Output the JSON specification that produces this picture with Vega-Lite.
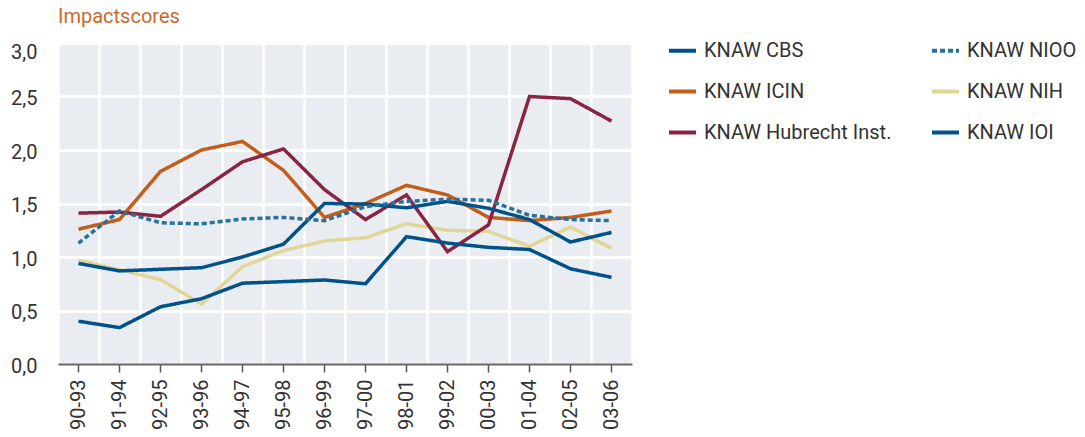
{
  "$schema": "https://vega.github.io/schema/vega-lite/v6.json",
  "width": 574,
  "height": 321,
  "autosize": {"type": "none"},
  "padding": {"left": 58, "top": 43, "right": 453, "bottom": 73},
  "background": "white",
  "title": {"text": "Impactscores", "anchor": "start", "frame": "group", "color": "#c8692c", "font": "Roboto", "fontSize": 20, "fontWeight": "normal", "offset": 8},
  "config": {
    "font": "Roboto",
    "view": {"fill": "#e9ecf0", "stroke": null},
    "legend": {"orient": "none", "legendX": 609, "legendY": -8, "columns": 2, "symbolType": "stroke", "symbolSize": 729, "symbolStrokeWidth": 4, "labelFontSize": 20, "labelFont": "Roboto", "labelColor": "#333333", "labelOffset": 6, "labelLimit": 400, "rowPadding": 15, "columnPadding": 32}
  },
  "data": {"values": [
    {"period": "90-93", "inst": "KNAW NIH", "value": 0.97},
    {"period": "91-94", "inst": "KNAW NIH", "value": 0.88},
    {"period": "92-95", "inst": "KNAW NIH", "value": 0.79},
    {"period": "93-96", "inst": "KNAW NIH", "value": 0.56},
    {"period": "94-97", "inst": "KNAW NIH", "value": 0.91},
    {"period": "95-98", "inst": "KNAW NIH", "value": 1.06},
    {"period": "96-99", "inst": "KNAW NIH", "value": 1.15},
    {"period": "97-00", "inst": "KNAW NIH", "value": 1.18},
    {"period": "98-01", "inst": "KNAW NIH", "value": 1.31},
    {"period": "99-02", "inst": "KNAW NIH", "value": 1.25},
    {"period": "00-03", "inst": "KNAW NIH", "value": 1.24},
    {"period": "01-04", "inst": "KNAW NIH", "value": 1.10},
    {"period": "02-05", "inst": "KNAW NIH", "value": 1.28},
    {"period": "03-06", "inst": "KNAW NIH", "value": 1.08},
    {"period": "90-93", "inst": "KNAW ICIN", "value": 1.26},
    {"period": "91-94", "inst": "KNAW ICIN", "value": 1.35},
    {"period": "92-95", "inst": "KNAW ICIN", "value": 1.80},
    {"period": "93-96", "inst": "KNAW ICIN", "value": 2.00},
    {"period": "94-97", "inst": "KNAW ICIN", "value": 2.08},
    {"period": "95-98", "inst": "KNAW ICIN", "value": 1.81},
    {"period": "96-99", "inst": "KNAW ICIN", "value": 1.37},
    {"period": "97-00", "inst": "KNAW ICIN", "value": 1.50},
    {"period": "98-01", "inst": "KNAW ICIN", "value": 1.67},
    {"period": "99-02", "inst": "KNAW ICIN", "value": 1.58},
    {"period": "00-03", "inst": "KNAW ICIN", "value": 1.37},
    {"period": "01-04", "inst": "KNAW ICIN", "value": 1.34},
    {"period": "02-05", "inst": "KNAW ICIN", "value": 1.37},
    {"period": "03-06", "inst": "KNAW ICIN", "value": 1.43},
    {"period": "90-93", "inst": "KNAW Hubrecht Inst.", "value": 1.41},
    {"period": "91-94", "inst": "KNAW Hubrecht Inst.", "value": 1.42},
    {"period": "92-95", "inst": "KNAW Hubrecht Inst.", "value": 1.38},
    {"period": "93-96", "inst": "KNAW Hubrecht Inst.", "value": 1.63},
    {"period": "94-97", "inst": "KNAW Hubrecht Inst.", "value": 1.89},
    {"period": "95-98", "inst": "KNAW Hubrecht Inst.", "value": 2.01},
    {"period": "96-99", "inst": "KNAW Hubrecht Inst.", "value": 1.63},
    {"period": "97-00", "inst": "KNAW Hubrecht Inst.", "value": 1.35},
    {"period": "98-01", "inst": "KNAW Hubrecht Inst.", "value": 1.58},
    {"period": "99-02", "inst": "KNAW Hubrecht Inst.", "value": 1.05},
    {"period": "00-03", "inst": "KNAW Hubrecht Inst.", "value": 1.30},
    {"period": "01-04", "inst": "KNAW Hubrecht Inst.", "value": 2.50},
    {"period": "02-05", "inst": "KNAW Hubrecht Inst.", "value": 2.48},
    {"period": "03-06", "inst": "KNAW Hubrecht Inst.", "value": 2.27},
    {"period": "90-93", "inst": "KNAW CBS", "value": 0.40},
    {"period": "91-94", "inst": "KNAW CBS", "value": 0.34},
    {"period": "92-95", "inst": "KNAW CBS", "value": 0.535},
    {"period": "93-96", "inst": "KNAW CBS", "value": 0.61},
    {"period": "94-97", "inst": "KNAW CBS", "value": 0.755},
    {"period": "95-98", "inst": "KNAW CBS", "value": 0.77},
    {"period": "96-99", "inst": "KNAW CBS", "value": 0.785},
    {"period": "97-00", "inst": "KNAW CBS", "value": 0.75},
    {"period": "98-01", "inst": "KNAW CBS", "value": 1.19},
    {"period": "99-02", "inst": "KNAW CBS", "value": 1.13},
    {"period": "00-03", "inst": "KNAW CBS", "value": 1.09},
    {"period": "01-04", "inst": "KNAW CBS", "value": 1.07},
    {"period": "02-05", "inst": "KNAW CBS", "value": 0.89},
    {"period": "03-06", "inst": "KNAW CBS", "value": 0.81},
    {"period": "90-93", "inst": "KNAW IOI", "value": 0.94},
    {"period": "91-94", "inst": "KNAW IOI", "value": 0.87},
    {"period": "92-95", "inst": "KNAW IOI", "value": 0.885},
    {"period": "93-96", "inst": "KNAW IOI", "value": 0.90},
    {"period": "94-97", "inst": "KNAW IOI", "value": 1.00},
    {"period": "95-98", "inst": "KNAW IOI", "value": 1.12},
    {"period": "96-99", "inst": "KNAW IOI", "value": 1.50},
    {"period": "97-00", "inst": "KNAW IOI", "value": 1.495},
    {"period": "98-01", "inst": "KNAW IOI", "value": 1.46},
    {"period": "99-02", "inst": "KNAW IOI", "value": 1.52},
    {"period": "00-03", "inst": "KNAW IOI", "value": 1.455},
    {"period": "01-04", "inst": "KNAW IOI", "value": 1.35},
    {"period": "02-05", "inst": "KNAW IOI", "value": 1.14},
    {"period": "03-06", "inst": "KNAW IOI", "value": 1.23},
    {"period": "90-93", "inst": "KNAW NIOO", "value": 1.13},
    {"period": "91-94", "inst": "KNAW NIOO", "value": 1.43},
    {"period": "92-95", "inst": "KNAW NIOO", "value": 1.32},
    {"period": "93-96", "inst": "KNAW NIOO", "value": 1.31},
    {"period": "94-97", "inst": "KNAW NIOO", "value": 1.355},
    {"period": "95-98", "inst": "KNAW NIOO", "value": 1.37},
    {"period": "96-99", "inst": "KNAW NIOO", "value": 1.34},
    {"period": "97-00", "inst": "KNAW NIOO", "value": 1.47},
    {"period": "98-01", "inst": "KNAW NIOO", "value": 1.52},
    {"period": "99-02", "inst": "KNAW NIOO", "value": 1.54},
    {"period": "00-03", "inst": "KNAW NIOO", "value": 1.53},
    {"period": "01-04", "inst": "KNAW NIOO", "value": 1.39},
    {"period": "02-05", "inst": "KNAW NIOO", "value": 1.35},
    {"period": "03-06", "inst": "KNAW NIOO", "value": 1.34}
  ]},
  "resolve": {"axis": {"x": "independent"}},
  "layer": [
    {
      "mark": {"type": "rule", "opacity": 0},
      "encoding": {
        "x": {"field": "period", "type": "nominal", "bandPosition": 0,
          "scale": {"type": "band", "paddingInner": 0, "paddingOuter": 0, "domain": ["90-93","91-94","92-95","93-96","94-97","95-98","96-99","97-00","98-01","99-02","00-03","01-04","02-05","03-06"]},
          "axis": {"title": null, "orient": "bottom", "grid": true, "tickBand": "extent", "gridColor": "white", "gridWidth": 2.5, "gridOpacity": 1, "labels": false, "ticks": false, "domain": false}}
      }
    },
    {
      "mark": {"type": "line", "strokeWidth": 3.5, "strokeJoin": "miter", "strokeCap": "butt"},
      "encoding": {
        "x": {"field": "period", "type": "nominal", "bandPosition": 0.5,
          "axis": {"title": null, "orient": "bottom", "grid": false, "domainColor": "#666666", "domainWidth": 2, "tickColor": "#555555", "tickWidth": 1.5, "tickSize": 8, "labelAngle": -90, "labelFontSize": 20, "labelColor": "#333333", "labelPadding": 7}},
        "y": {"field": "value", "type": "quantitative",
          "scale": {"domain": [0, 3], "nice": false, "zero": true},
          "axis": {"title": null, "values": [0, 0.5, 1, 1.5, 2, 2.5, 3], "domain": false, "ticks": false, "grid": true, "gridColor": "white", "gridWidth": 3, "gridOpacity": 1, "labelFontSize": 20, "labelColor": "#333333", "labelPadding": 21,
            "labelExpr": "replace(format(datum.value, '.1f'), '.', ',')",
            "labelBaseline": "middle",
            "labelOffset": {"condition": {"test": "datum.value >= 3", "value": 9}, "value": 2}}},
        "color": {"field": "inst", "type": "nominal", "legend": {"title": null},
          "scale": {"domain": ["KNAW CBS", "KNAW ICIN", "KNAW Hubrecht Inst.", "KNAW NIOO", "KNAW NIH", "KNAW IOI"],
            "range": ["#00528b", "#c25e1a", "#8b2343", "#2a7099", "#e0d796", "#00528b"]}},
        "strokeDash": {"field": "inst", "type": "nominal", "legend": {"title": null},
          "scale": {"domain": ["KNAW CBS", "KNAW ICIN", "KNAW Hubrecht Inst.", "KNAW NIOO", "KNAW NIH", "KNAW IOI"],
            "range": [[1, 0], [1, 0], [1, 0], [5, 3], [1, 0], [1, 0]]}}
      }
    }
  ]
}
